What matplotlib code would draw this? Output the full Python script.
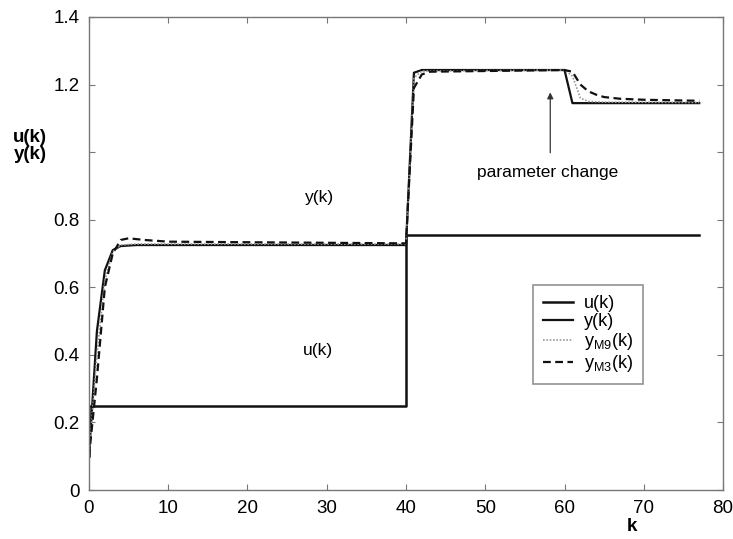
import matplotlib
matplotlib.use("Agg")
import matplotlib.pyplot as plt

plt.rcParams["font.family"] = ["Liberation Sans", "DejaVu Sans"]
plt.rcParams["mathtext.fontset"] = "custom"
plt.rcParams["mathtext.rm"] = "Liberation Sans"
plt.rcParams["mathtext.it"] = "Liberation Sans"

# input u(k): step sequence (vertices)
u_k = [0, 0, 40, 40, 77]
u_vals = [0.1, 0.25, 0.25, 0.755, 0.755]

# process output y(k)
y_k = [0, 1, 2, 3, 4, 6, 40, 41, 42, 60, 61, 77]
y_vals = [0.1, 0.47, 0.65, 0.71, 0.722, 0.725, 0.725, 1.235, 1.243, 1.243, 1.145, 1.145]

# model M9 output
m9_k = [0, 1, 2, 3, 4, 6, 40, 41, 42, 60, 61, 62, 63, 65, 77]
m9_vals = [0.1, 0.4, 0.62, 0.705, 0.725, 0.728, 0.728, 1.22, 1.24, 1.243,
           1.225, 1.16, 1.15, 1.148, 1.147]

# model M3 output
m3_k = [0, 1, 2, 3, 4, 5, 7, 10, 40, 41, 42, 43, 60, 61, 62, 63, 64, 65, 67, 70, 77]
m3_vals = [0.1, 0.33, 0.6, 0.7, 0.74, 0.745, 0.74, 0.735, 0.73, 1.19, 1.23, 1.238,
           1.243, 1.238, 1.2, 1.18, 1.17, 1.163, 1.158, 1.155, 1.152]

fig = plt.figure(figsize=(7.33, 5.39), dpi=100)
ax = fig.add_axes([0.1214, 0.0909, 0.865, 0.8776])

ax.plot(u_k, u_vals, color="#111111", lw=1.8, label="u(k)")
ax.plot(y_k, y_vals, color="#111111", lw=1.6, label="y(k)")
ax.plot(m9_k, m9_vals, color="#999999", lw=1.2, ls=(0, (1, 1)), label=r"y$_{\mathrm{M9}}$(k)")
ax.plot(m3_k, m3_vals, color="#111111", lw=1.6, ls=(0, (3.5, 2)), label=r"y$_{\mathrm{M3}}$(k)")

ax.set_xlim(0, 80)
ax.set_ylim(0, 1.4)
ax.set_xticks(range(0, 81, 10))
ax.set_yticks([0, 0.2, 0.4, 0.6, 0.8, 1.0, 1.2, 1.4])
ax.set_yticklabels(["0", "0.2", "0.4", "0.6", "0.8", "", "1.2", "1.4"])
ax.tick_params(direction="in", length=4, color="#777777", labelsize=13.5,
               top=True, right=True, pad=7)
for s in ax.spines.values():
    s.set_color("#777777")
    s.set_linewidth(1.0)

ax.text(29.1, 0.867, "y(k)", fontsize=12.5, ha="center", va="center")
ax.text(28.9, 0.414, "u(k)", fontsize=12.5, ha="center", va="center")
ax.text(57.9, 0.94, "parameter change", fontsize=12.5, ha="center", va="center")
ax.annotate("", xy=(58.2, 1.185), xytext=(58.2, 0.99),
            arrowprops=dict(arrowstyle="-|>", color="#333333", lw=0.9,
                            mutation_scale=9))

fig.text(0.041, 0.729, "u(k)\ny(k)", fontsize=13.5, fontweight="bold",
         ha="center", va="center", linespacing=1.05)
fig.text(0.862, 0.024, "k", fontsize=13.5, fontweight="bold", ha="center", va="center")

leg = ax.legend(loc="upper left", bbox_to_anchor=(0.70, 0.433), fontsize=13,
                frameon=True, fancybox=False, edgecolor="#777777",
                handlelength=1.7, labelspacing=0.05, borderpad=0.55,
                handletextpad=0.6, borderaxespad=0)
leg.get_frame().set_linewidth(1.2)

fig.savefig("out.png", dpi=100)
